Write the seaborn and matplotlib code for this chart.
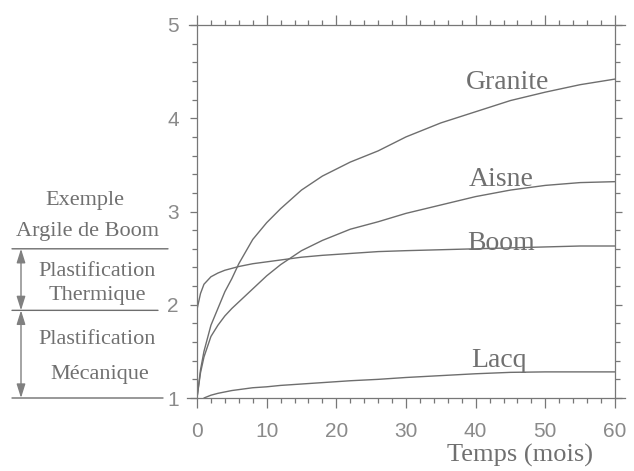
import matplotlib
matplotlib.use("Agg")
import matplotlib.pyplot as plt
import matplotlib.transforms as mtransforms
import seaborn as sns
import pandas as pd
import numpy as np

# Temps (mois)
months = [0, 0.5, 1, 2, 3, 4, 5, 6, 8, 10, 12, 15, 18, 22, 26, 30, 35, 40, 45, 50, 55, 60]

granite = [1.00, 1.30, 1.50, 1.78, 1.96, 2.14, 2.28, 2.44, 2.70, 2.88, 3.03, 3.23, 3.38, 3.53,
           3.65, 3.80, 3.95, 4.07, 4.19, 4.28, 4.36, 4.42]
aisne = [1.00, 1.27, 1.44, 1.66, 1.78, 1.88, 1.96, 2.03, 2.17, 2.31, 2.43, 2.58, 2.69, 2.81,
         2.89, 2.98, 3.07, 3.16, 3.23, 3.28, 3.31, 3.32]
boom = [1.95, 2.12, 2.22, 2.30, 2.34, 2.37, 2.39, 2.41, 2.44, 2.46, 2.48, 2.51, 2.53, 2.55,
        2.57, 2.58, 2.59, 2.60, 2.61, 2.62, 2.63, 2.63]
lacq = [np.nan, np.nan, 1.00, 1.03, 1.05, 1.065, 1.08, 1.09, 1.11, 1.12, 1.135, 1.15, 1.165, 1.185,
        1.20, 1.22, 1.24, 1.26, 1.275, 1.28, 1.28, 1.28]

series_names = ["Granite", "Aisne", "Boom", "Lacq"]
series_values = [granite, aisne, boom, lacq]
# label anchors (x in months, baseline y in data units)
label_x = [44.6, 43.6, 43.6, 43.3]
label_y = [4.31, 3.27, 2.59, 1.33]

x_ticks = [0, 10, 20, 30, 40, 50, 60]
y_ticks = [1, 2, 3, 4, 5]
x_minor_step = 2
y_minor_step = 0.2

line_col = "#6e6e6e"
text_col = "#707070"
tick_col = "#8a8a8a"
axis_col = "#777777"

sns.set_theme(style="ticks", rc={
    "xtick.major.size": 0, "xtick.minor.size": 0,
    "ytick.major.size": 0, "ytick.minor.size": 0,
    "xtick.major.pad": 17, "ytick.major.pad": 13,
    "xtick.labelcolor": tick_col, "ytick.labelcolor": tick_col,
    "xtick.labelsize": 15, "ytick.labelsize": 15,
    "axes.edgecolor": axis_col, "axes.linewidth": 0.9,
})
plt.rcParams["font.family"] = ["Liberation Serif", "DejaVu Serif"]

W, H = 634, 471
fig = plt.figure(figsize=(W / 100, H / 100), dpi=100)
ax = fig.add_axes([197 / W, 1 - 398 / H, (615 - 197) / W, (398 - 25) / H])

frames = []
for name, vals in zip(series_names, series_values):
    frames.append(pd.DataFrame({"mois": months, "val": vals, "site": name}))
df = pd.concat(frames, ignore_index=True).dropna()

sns.lineplot(data=df, x="mois", y="val", hue="site", units="site", estimator=None,
             palette={n: line_col for n in series_names}, linewidth=1.0,
             legend=False, ax=ax, sort=False)

for name, lx, ly in zip(series_names, label_x, label_y):
    ax.text(lx, ly, name, ha="center", va="baseline", fontsize=20, color=text_col)

ax.set_xlim(0, 60)
ax.set_ylim(1, 5)
ax.set_xticks(x_ticks)
ax.set_yticks(y_ticks)
ax.spines["top"].set_bounds(-1.2, 61.5)
ax.spines["bottom"].set_bounds(-1.5, 61.5)
ax.tick_params(labelfontfamily="Liberation Sans")

# outward tick marks on all four sides (major + minor)
x_minor = [v for v in np.arange(x_ticks[0], x_ticks[-1] + 0.01, x_minor_step) if v not in x_ticks]
y_minor = [round(v, 2) for v in np.arange(y_ticks[0], y_ticks[-1] + 0.001, y_minor_step)
           if round(v, 2) not in y_ticks]
tx = mtransforms.blended_transform_factory(ax.transData, ax.transAxes)
ty = mtransforms.blended_transform_factory(ax.transAxes, ax.transData)
ax_h, ax_w = 373.0, 418.0
xl_major, xl_minor = 10 / ax_h, 5 / ax_h
yl_major, yl_minor = 7 / ax_w, 5 / ax_w
tick_kw = dict(colors=axis_col, linewidth=0.9, clip_on=False)
ax.vlines(x_ticks, -xl_major, 0, transform=tx, **tick_kw)
ax.vlines(x_minor, -xl_minor, 0, transform=tx, **tick_kw)
ax.vlines(x_ticks, 1, 1 + xl_major, transform=tx, **tick_kw)
ax.vlines(x_minor, 1, 1 + xl_minor, transform=tx, **tick_kw)
ax.hlines(y_ticks, -yl_major, 0, transform=ty, **tick_kw)
ax.hlines(y_minor, -yl_minor, 0, transform=ty, **tick_kw)
ax.hlines(y_ticks, 1, 1 + yl_major, transform=ty, **tick_kw)
ax.hlines(y_minor, 1, 1 + yl_minor, transform=ty, **tick_kw)

ax.set_ylabel("")
ax.set_xlabel("Temps (mois)", fontsize=19, color=text_col)
ax.xaxis.set_label_coords(0.773, -0.122)

# left-hand legend: zones of plastification
coords = ("figure pixels", "data")
for y0, x1 in [(2.6, 168), (1.94, 158), (1.0, 163)]:
    ax.annotate("", xy=(x1, y0), xytext=(12, y0), xycoords=coords, textcoords=coords,
                arrowprops=dict(arrowstyle="-", color=line_col, lw=1.0,
                                shrinkA=0, shrinkB=0), annotation_clip=False)
for ya, yb in [(2.6, 1.94), (1.94, 1.0)]:
    ax.annotate("", xy=(21, yb), xytext=(21, ya), xycoords=coords, textcoords=coords,
                arrowprops=dict(arrowstyle="<|-|>,head_length=0.7,head_width=0.22",
                                color="#808080", lw=1.0, shrinkA=0, shrinkB=0,
                                mutation_scale=12),
                annotation_clip=False)

left_texts = [("Exemple", 85, 205), ("Argile de Boom", 87.5, 236),
              ("Plastification", 96.7, 276), ("Thermique", 97.5, 300),
              ("Plastification", 96.7, 344), ("Mécanique", 100, 378.7)]
for txt, px, py in left_texts:
    ax.text(px / W, 1 - py / H, txt, transform=fig.transFigure, ha="center",
            va="baseline", fontsize=16, color=text_col, clip_on=False)

fig.savefig("out.png", dpi=100, facecolor="white")
